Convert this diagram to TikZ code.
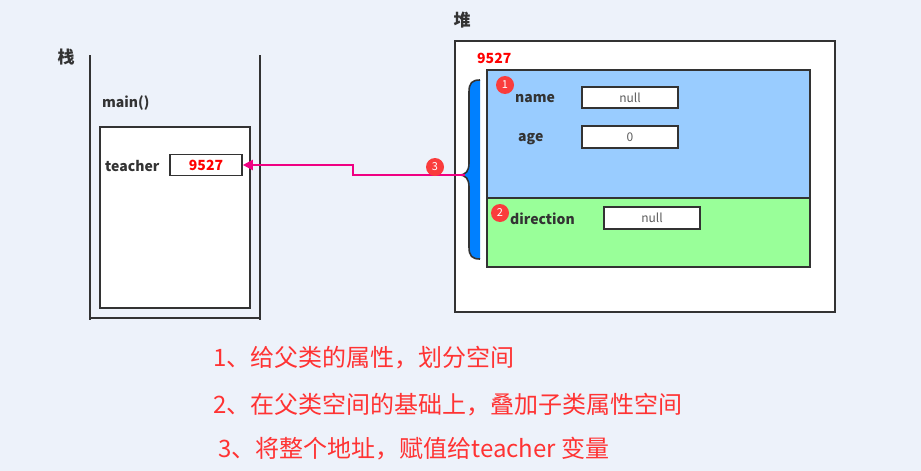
\documentclass[tikz,border=0pt]{standalone}
\usepackage{fontspec}
\setmainfont{Noto Sans CJK SC}
\usetikzlibrary{arrows.meta}

\definecolor{bgcol}{RGB}{237,242,250}
\definecolor{ink}{RGB}{51,51,51}
\definecolor{fieldblue}{RGB}{153,204,255}
\definecolor{fieldgreen}{RGB}{153,255,153}
\definecolor{bracecol}{RGB}{0,128,255}
\definecolor{addrred}{RGB}{255,0,0}
\definecolor{noteRed}{RGB}{255,51,51}
\definecolor{badgecol}{RGB}{250,60,60}
\definecolor{linkpink}{RGB}{240,0,130}

\begin{document}
\begin{tikzpicture}[x=1pt,y=-1pt,
    frame/.style={draw=ink,line width=2pt,fill=white,inner sep=0pt},
    valbox/.style={draw=ink,line width=1.6pt,fill=white,inner sep=0pt,
      minimum width=96pt,minimum height=21pt,text=ink!80,font=\fontsize{12}{14}\selectfont},
    lbl/.style={anchor=west,inner sep=0pt,text=ink,font=\fontsize{14}{16}\selectfont\bfseries},
    title/.style={inner sep=0pt,text=ink,font=\fontsize{17}{19}\selectfont\bfseries},
    badge/.style={circle,fill=badgecol,text=white,inner sep=0pt,minimum size=18pt,
      font=\fontsize{11}{12}\selectfont},
    note/.style={anchor=west,inner sep=0pt,text=noteRed,font=\fontsize{24}{28}\selectfont},
    link/.style={draw=linkpink,line width=2pt,-{Triangle[length=10pt,width=10pt]}}]

  \fill[bgcol] (0,0) rectangle (921,471);
  \useasboundingbox (0,0) rectangle (921,471);

  % stack
  \node[title] (stacktitle) at (66,57) {栈};
  \draw[ink,line width=2pt] (90,55) -- (90,320);
  \draw[ink,line width=2pt] (260,55) -- (260,320);
  \draw[ink,line width=2pt] (90,318) -- (259,318);
  \node[lbl] (main) at (102,103) {main()};
  \node[frame,minimum width=150pt,minimum height=181pt] (mainframe) at (175,217.5) {};
  \node[lbl] (teacher) at (105,166) {teacher};
  \node[frame,line width=1.6pt,minimum width=72pt,minimum height=21pt,
    text=addrred,font=\fontsize{14}{16}\selectfont\bfseries] (ref) at (206,165) {9527};

  % heap
  \node[title] (heaptitle) at (462,20) {堆};
  \node[frame,minimum width=380pt,minimum height=271pt] (heap) at (645,176.5) {};
  \node[lbl,text=addrred] (addr) at (477,58) {9527};
  \node[frame,fill=fieldblue,minimum width=323pt,minimum height=128pt] (parent) at (648.5,134) {};
  \node[frame,fill=fieldgreen,minimum width=323pt,minimum height=69pt] (child) at (648.5,232.5) {};

  \node[lbl] (name) at (515,99) {name};
  \node[valbox] (nameval) at (630,97.5) {null};
  \node[lbl] (age) at (518,139) {age};
  \node[valbox,minimum height=22pt] (ageval) at (630,137) {0};
  \node[lbl] (dir) at (510,219) {direction};
  \node[valbox,minimum height=22pt] (dirval) at (652,218) {null};

  \node[badge] (b1) at (505,85) {1};
  \node[badge] (b2) at (500,213) {2};

  % brace round the object
  \fill[bracecol] (480,80) .. controls (472,80) and (469,83) .. (469,92) -- (469,163)
    .. controls (469,171) and (466,175) .. (459,175)
    .. controls (466,175) and (469,179) .. (469,187) -- (469,247)
    .. controls (469,256) and (472,259) .. (480,259) -- cycle;
  \draw[ink,line width=1.6pt] (480,80) .. controls (472,80) and (469,83) .. (469,92) -- (469,163)
    .. controls (469,171) and (466,175) .. (459,175)
    .. controls (466,175) and (469,179) .. (469,187) -- (469,247)
    .. controls (469,256) and (472,259) .. (480,259);
  \coordinate (bracetip) at (465,175);
  \coordinate (bend) at (353,175);

  \draw[link] (bracetip) -- (bend) -- (bend |- ref.east) -- (ref.east);
  \node[badge] (b3) at (435,167) {3};

  % notes
  \node[note] (note1) at (213,358) {1、给父类的属性，划分空间};
  \node[note] (note2) at (213,405) {2、在父类空间的基础上，叠加子类属性空间};
  \node[note] (note3) at (218,449) {3、将整个地址，赋值给teacher 变量};

\end{tikzpicture}
\end{document}
